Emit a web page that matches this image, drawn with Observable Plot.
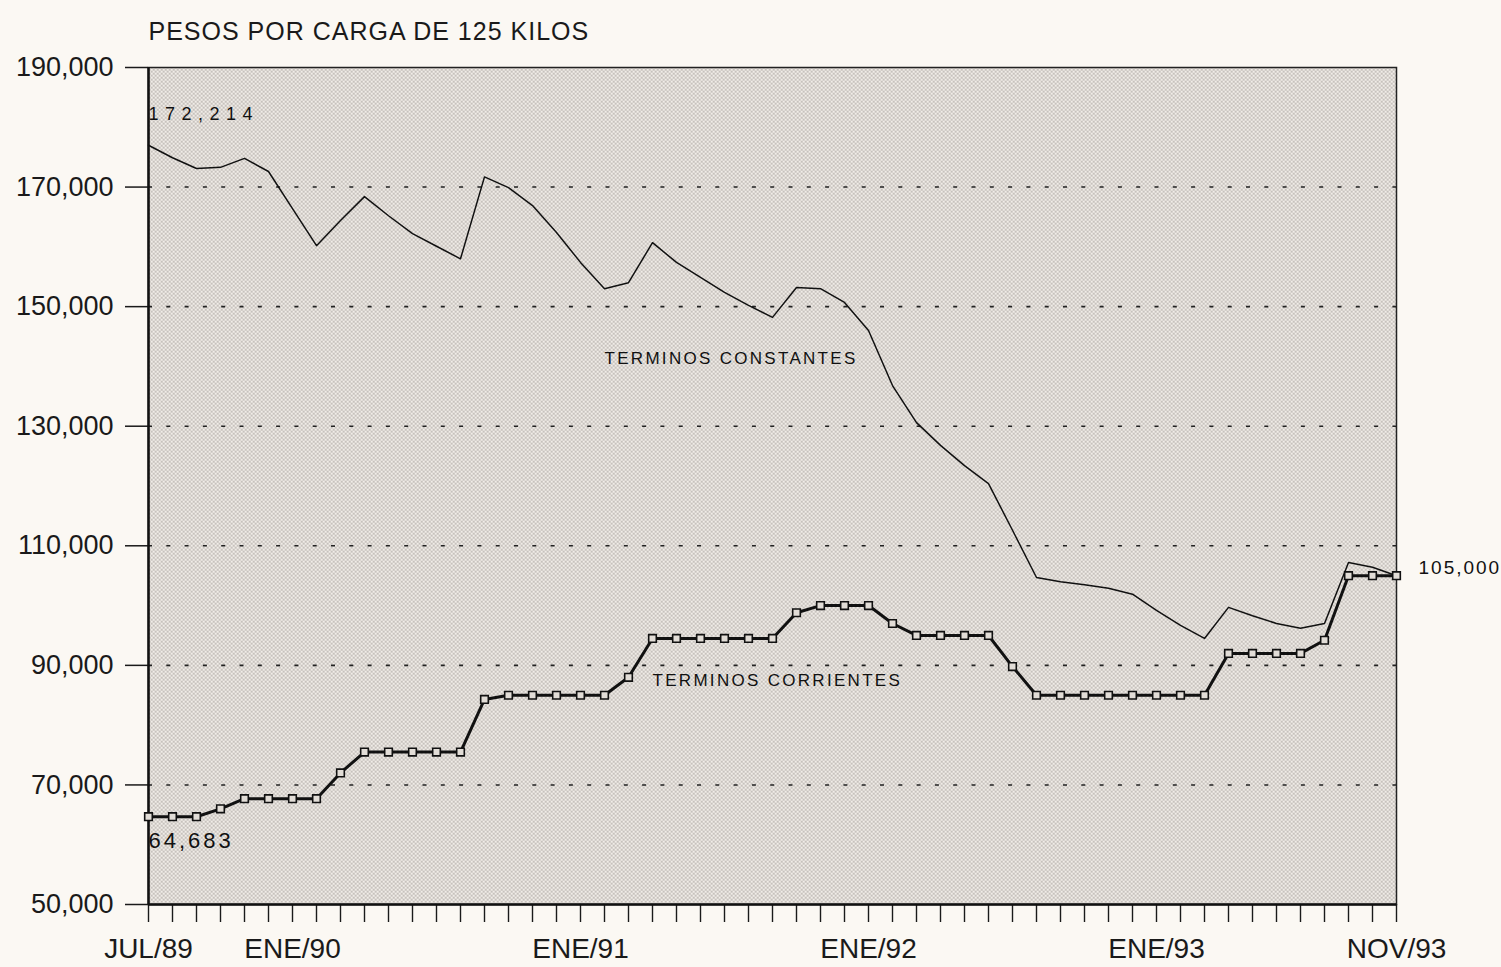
<!DOCTYPE html>
<html>
<head>
<meta charset="utf-8">
<script src="https://cdn.jsdelivr.net/npm/d3@7"></script>
<script src="https://cdn.jsdelivr.net/npm/@observablehq/plot@0.6"></script>
<style>
  body { margin: 0; background: #fbf8f3; }
  #chart svg { display: block; }
</style>
</head>
<body>
<div id="chart"></div>
<script>
// Meses (JUL/89 a NOV/93)
const months = [
  "JUL/89","AGO/89","SEP/89","OCT/89","NOV/89","DIC/89",
  "ENE/90","FEB/90","MAR/90","ABR/90","MAY/90","JUN/90","JUL/90","AGO/90","SEP/90","OCT/90","NOV/90","DIC/90",
  "ENE/91","FEB/91","MAR/91","ABR/91","MAY/91","JUN/91","JUL/91","AGO/91","SEP/91","OCT/91","NOV/91","DIC/91",
  "ENE/92","FEB/92","MAR/92","ABR/92","MAY/92","JUN/92","JUL/92","AGO/92","SEP/92","OCT/92","NOV/92","DIC/92",
  "ENE/93","FEB/93","MAR/93","ABR/93","MAY/93","JUN/93","JUL/93","AGO/93","SEP/93","OCT/93","NOV/93"
];
const xLabels = ["JUL/89","ENE/90","ENE/91","ENE/92","ENE/93","NOV/93"];
const yTicks = [50000, 70000, 90000, 110000, 130000, 150000, 170000, 190000];

// Términos constantes
const constantes = [
  177000,174900,173100,173300,174800,172600,
  166400,160200,164400,168400,165200,162200,160100,158000,171700,169900,166900,162400,
  157400,153000,154000,160700,157400,154900,152400,150200,148200,153200,153000,150700,
  146000,136800,130600,126800,123400,120400,112600,104700,104000,103500,102900,101900,
  99200,96700,94500,99700,98300,97000,96200,97000,107200,106400,105000
];
// Términos corrientes
const corrientes = [
  64683,64683,64683,66000,67700,67700,
  67700,67700,72000,75500,75500,75500,75500,75500,84300,85000,85000,85000,
  85000,85000,88000,94500,94500,94500,94500,94500,94500,98800,100000,100000,
  100000,97000,95000,95000,95000,95000,89800,85000,85000,85000,85000,85000,
  85000,85000,85000,92000,92000,92000,92000,94200,105000,105000,105000
];

const title = "PESOS POR CARGA DE 125 KILOS";
const startHigh = [{x: "JUL/89", y: 182200, t: "172,214"}];
const startLow = [{x: "JUL/89", y: 60600, t: "64,683"}];
const seriesNames = [
  {x: "FEB/91", y: 141300, t: "TERMINOS CONSTANTES"},
  {x: "ABR/91", y: 87500, t: "TERMINOS CORRIENTES"}
];
const endLabel = [{x: "NOV/93", y: 106300, t: "105,000"}];
const spacing = {"172,214": 6.5, "64,683": 3, "TERMINOS CONSTANTES": 2.3, "TERMINOS CORRIENTES": 2.3, "105,000": 2, [title]: 1};

const data = months.map((m, i) => ({mes: m, constantes: constantes[i], corrientes: corrientes[i]}));

const plot = Plot.plot({
  width: 1501,
  height: 967,
  marginLeft: 148,
  marginRight: 105,
  marginTop: 67,
  marginBottom: 63,
  style: {fontFamily: "'Liberation Sans', Arial, sans-serif", background: "transparent", color: "#1a1a1a"},
  x: {type: "point", domain: months, padding: 0},
  y: {domain: [50000, 190000]},
  marks: [
    Plot.frame({fill: "url(#puntos)", stroke: "#222", strokeWidth: 1.5}),
    Plot.gridY(yTicks.slice(1, -1), {stroke: "#222", strokeOpacity: 1, strokeWidth: 1.6, strokeDasharray: "4,14.3"}),
    Plot.axisY({ticks: yTicks, tickFormat: d3.format(","), tickSize: 23, tickPadding: 12, fontSize: 27, label: null, strokeWidth: 1.5}),
    Plot.axisX({ticks: months, tickSize: 18, tickFormat: () => "", label: null, strokeWidth: 1.4}),
    Plot.axisX({ticks: xLabels, tickSize: 0, tickPadding: 34, fontSize: 28, label: null}),
    Plot.ruleX([months[0]], {stroke: "#111", strokeWidth: 2.5}),
    Plot.ruleY([50000], {stroke: "#111", strokeWidth: 2.5}),
    Plot.line(data, {x: "mes", y: "constantes", stroke: "#111", strokeWidth: 1.5}),
    Plot.line(data, {x: "mes", y: "corrientes", stroke: "#111", strokeWidth: 3}),
    Plot.dot(data, {x: "mes", y: "corrientes", symbol: "square", r: 4.3, stroke: "#111", strokeWidth: 1.6, fill: "#e2ddd7"}),
    Plot.text([title], {frameAnchor: "top-left", dy: -45, textAnchor: "start", fontSize: 25, fill: "#1a1a1a"}),
    Plot.text(startHigh, {x: "x", y: "y", text: "t", textAnchor: "start", fontSize: 18, fill: "#111"}),
    Plot.text(startLow, {x: "x", y: "y", text: "t", textAnchor: "start", fontSize: 22, fill: "#111"}),
    Plot.text(seriesNames, {x: "x", y: "y", text: "t", textAnchor: "start", fontSize: 17, fill: "#111"}),
    Plot.text(endLabel, {x: "x", y: "y", text: "t", textAnchor: "start", dx: 22, fontSize: 19, fill: "#111"})
  ]
});

// Patrón de puntos (trama) para el fondo del área del gráfico
const svg = d3.select(plot);
const defs = svg.insert("defs", ":first-child");
const pat = defs.append("pattern").attr("id", "puntos").attr("patternUnits", "userSpaceOnUse")
  .attr("width", 4).attr("height", 4);
pat.append("rect").attr("width", 4).attr("height", 4).attr("fill", "#f4f0eb");
pat.append("rect").attr("x", 0.5).attr("y", 0.5).attr("width", 1.6).attr("height", 1.6).attr("fill", "#a29c98");
pat.append("rect").attr("x", 2.5).attr("y", 2.5).attr("width", 1.6).attr("height", 1.6).attr("fill", "#a29c98");

svg.selectAll("text").each(function() {
  const s = spacing[this.textContent];
  if (s) d3.select(this).style("letter-spacing", s + "px");
});

document.getElementById("chart").appendChild(plot);
</script>
</body>
</html>
